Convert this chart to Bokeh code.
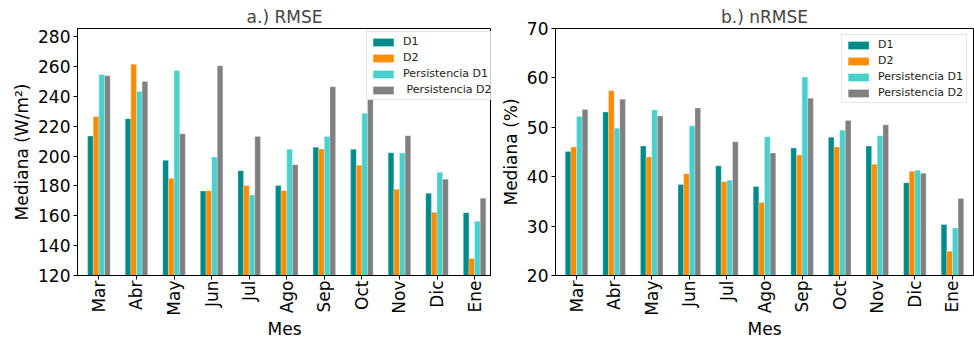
import math
from bokeh.plotting import figure
from bokeh.layouts import row
from bokeh.models import ColumnDataSource, Range1d, FixedTicker, Legend, LegendItem
from bokeh.transform import dodge
from bokeh.embed import file_html
from bokeh.resources import INLINE

months = ["Mar", "Abr", "May", "Jun", "Jul", "Ago", "Sep", "Oct", "Nov", "Dic", "Ene"]

# a.) RMSE (W/m²)
rmse_d1 = [213.4, 225.0, 197.1, 176.6, 190.2, 180.2, 205.8, 204.5, 202.2, 175.0, 162.1]
rmse_d2 = [226.5, 261.5, 185.1, 176.8, 180.2, 176.8, 204.7, 193.8, 177.7, 162.3, 131.4]
rmse_p1 = [254.6, 243.2, 257.3, 199.3, 173.9, 204.5, 213.1, 228.7, 202.0, 189.1, 156.3]
rmse_p2 = [253.7, 249.9, 214.9, 260.4, 213.1, 194.2, 246.4, 238.0, 213.6, 184.4, 171.7]

# b.) nRMSE (%)
nrmse_d1 = [45.1, 53.1, 46.2, 38.4, 42.2, 38.0, 45.8, 48.0, 46.2, 38.8, 30.3]
nrmse_d2 = [46.0, 57.4, 44.0, 40.6, 39.0, 34.8, 44.4, 46.0, 42.5, 41.1, 24.9]
nrmse_p1 = [52.2, 49.8, 53.5, 50.3, 39.3, 48.1, 60.2, 49.4, 48.3, 41.3, 29.6]
nrmse_p2 = [53.6, 55.7, 52.3, 53.9, 47.1, 44.8, 55.9, 51.4, 50.5, 40.7, 35.6]

labels_a = ["D1", "D2", "Persistencia D1", " Persistencia D2"]
labels_b = ["D1", "D2", "Persistencia D1", "Persistencia D2"]
colors = ["#008b8b", "#ff8c00", "#48d1cc", "#808080"]
yticks_a = [120, 140, 160, 180, 200, 220, 240, 260, 280]
yticks_b = [20, 30, 40, 50, 60, 70]

FONT = "DejaVu Sans"


def panel(title, ylabel, series, labels, xr, yr, yticks, width, bl, br, legend_loc):
    p = figure(width=width, height=342, x_range=Range1d(*xr), y_range=Range1d(*yr),
               min_border_left=bl, min_border_right=br, min_border_top=28,
               min_border_bottom=67, output_backend="svg", toolbar_location=None)
    src = ColumnDataSource(dict(x=list(range(len(months))),
                                s0=series[0], s1=series[1], s2=series[2], s3=series[3]))
    offsets = [-0.225, -0.075, 0.075, 0.225]
    items = []
    for i in range(4):
        r = p.vbar(x=dodge("x", offsets[i]), top="s%d" % i, bottom=0, width=0.15,
                   source=src, fill_color=colors[i], line_color="white",
                   line_width=0.5, line_alpha=0.5)
        items.append(LegendItem(label=labels[i], renderers=[r]))
    p.title.text = title
    p.title.text_font = FONT
    p.title.text_font_size = "17px"
    p.title.text_font_style = "normal"
    p.title.align = "center"
    p.title.standoff = 4
    p.xgrid.visible = False
    p.ygrid.visible = False
    p.outline_line_color = "black"
    p.outline_line_alpha = 1
    for ax in (p.xaxis[0], p.yaxis[0]):
        ax.axis_line_color = "black"
        ax.major_tick_line_color = "black"
        ax.major_tick_out = 4
        ax.major_tick_in = 0
        ax.minor_tick_line_color = None
        ax.major_label_text_font = FONT
        ax.major_label_text_font_size = "17px"
        ax.major_label_text_color = "black"
        ax.axis_label_text_font = FONT
        ax.axis_label_text_font_size = "17px"
        ax.axis_label_text_font_style = "normal"
        ax.axis_label_text_color = "black"
        ax.major_label_standoff = 3
        ax.axis_label_standoff = 3
    p.xaxis.ticker = FixedTicker(ticks=list(range(len(months))))
    p.xaxis.major_label_overrides = {i: m for i, m in enumerate(months)}
    p.xaxis.major_label_orientation = math.pi / 2
    p.xaxis.major_label_standoff = 1
    p.xaxis.axis_label = "Mes"
    p.xaxis.axis_label_standoff = 0
    p.yaxis.ticker = FixedTicker(ticks=yticks)
    p.yaxis.axis_label = ylabel
    leg = Legend(items=items, location=legend_loc)
    leg.label_text_font = FONT
    leg.label_text_font_size = "11px"
    leg.label_text_color = "#222222"
    leg.glyph_width = 26
    leg.glyph_height = 10
    leg.label_height = 12
    leg.spacing = 3
    leg.padding = 3
    leg.label_standoff = 7
    leg.margin = 6
    leg.border_line_color = "#cccccc"
    leg.background_fill_alpha = 0.8
    p.add_layout(leg)
    return p


p1 = panel("a.) RMSE", "Mediana (W/m²)", [rmse_d1, rmse_d2, rmse_p1, rmse_p2], labels_a,
           (-0.57, 10.45), (120, 285.4), yticks_a, 491, 77, 0, (289, 175))
p2 = panel("b.) nRMSE", "Mediana (%)", [nrmse_d1, nrmse_d2, nrmse_p1, nrmse_p2], labels_b,
           (-0.56, 10.56), (20, 70), yticks_b, 483, 64, 1, "top_right")

layout = row(p1, p2)
open("out.html", "w").write(file_html(layout, INLINE))
